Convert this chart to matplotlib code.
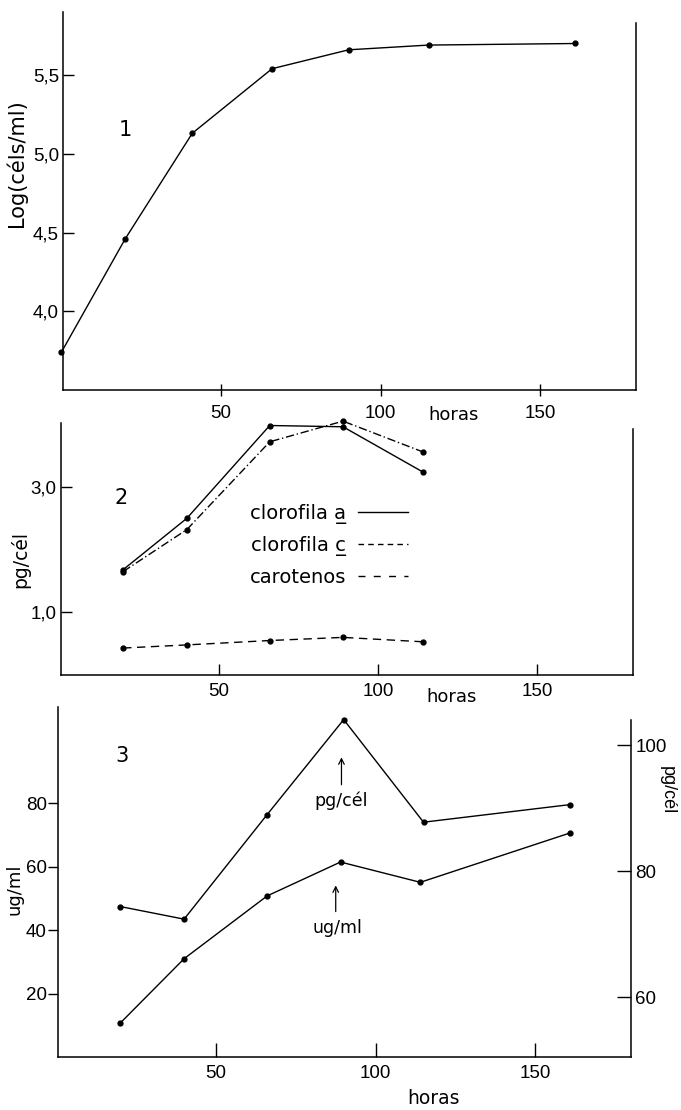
import matplotlib
matplotlib.use("Agg")
import matplotlib.pyplot as plt
from matplotlib.lines import Line2D

# panel 1: growth curve
hours1 = [0, 20, 41, 66, 90, 115, 161]
log_cells = [3.74, 4.46, 5.13, 5.54, 5.66, 5.69, 5.70]
yticks1 = [4.0, 4.5, 5.0, 5.5]
ylabels1 = ["4,0", "4,5", "5,0", "5,5"]

# panel 2: pigments per cell
hours2 = [20, 40, 66, 89, 114]
chl_a = [1.68, 2.50, 3.98, 3.96, 3.24]
chl_c = [1.65, 2.32, 3.72, 4.05, 3.56]
carot = [0.43, 0.48, 0.55, 0.60, 0.53]
yticks2 = [1.0, 3.0]
ylabels2 = ["1,0", "3,0"]
legend_labels = ["clorofila a\u0332", "clorofila c\u0332", "carotenos"]

# panel 3: protein
hours3_ug = [20, 40, 66, 89, 114, 161]
ug_ml = [10.7, 31.0, 50.8, 61.5, 55.1, 70.7]
hours3_pg = [20, 40, 66, 90, 115, 161]
pg_cel = [74.4, 72.4, 89.0, 104.1, 87.8, 90.6]
yticks3 = [20, 40, 60, 80]
yticks3r = [60, 80, 100]

xticks = [50, 100, 150]

TICK_FONT = "Liberation Sans"
TEXT_FONT = "DejaVu Sans"
LW = 1.0
MS = 3.5

fig = plt.figure(figsize=(6.81, 11.10), dpi=100)
W, H = 681.0, 1110.0


def add_axes(left, top, right, bottom):
    return fig.add_axes([left / W, 1 - bottom / H, (right - left) / W, (bottom - top) / H])


def style(ax, xdir, ydir, xlen, ylen, size):
    ax.spines["top"].set_visible(False)
    ax.set_xticks(xticks)
    ax.set_xticklabels([str(v) for v in xticks], fontfamily=TICK_FONT, fontsize=size)
    ax.tick_params(axis="x", direction=xdir, length=xlen, width=1.0, pad=6)
    ax.tick_params(axis="y", direction=ydir, length=ylen, width=1.0, pad=3)
    for s in ax.spines.values():
        s.set_linewidth(1.1)


def horas(ax, x, dy):
    ax.annotate("horas", xy=(x, 0), xycoords=("data", "axes fraction"),
                xytext=(0, dy), textcoords="offset pixels",
                ha="center", va="center", fontfamily=TEXT_FONT, fontsize=13)


# ---- panel 1
ax1 = add_axes(63, 12, 636, 390)
ax1.plot(hours1, log_cells, color="black", lw=LW, marker="o", ms=MS, clip_on=False)
ax1.set_xlim(0.5, 180)
ax1.set_ylim(3.5, 5.9)
style(ax1, "inout", "in", 9, 8, 13.5)
ax1.set_yticks(yticks1)
ax1.set_yticklabels(ylabels1, fontfamily=TICK_FONT, fontsize=13.5)
ax1.spines["right"].set_bounds(3.5, 5.83)
ax1.set_ylabel("Log(céls/ml)", fontfamily=TEXT_FONT, fontsize=15)
ax1.yaxis.set_label_coords(-0.062, 0.6)
ax1.text(20, 5.15, "1", fontfamily=TEXT_FONT, fontsize=15, ha="center", va="center")
horas(ax1, 123, -25)

# ---- panel 2
ax2 = add_axes(61, 423, 633, 675)
ax2.plot(hours2, chl_a, color="black", lw=LW, marker="o", ms=MS, clip_on=False)
ax2.plot(hours2, chl_c, color="black", lw=LW, marker="o", ms=MS,
         dashes=(6, 2, 1, 2), clip_on=False)
ax2.plot(hours2, carot, color="black", lw=LW, marker="o", ms=MS,
         dashes=(6, 4), clip_on=False)
ax2.set_xlim(0.5, 180)
ax2.set_ylim(0, 4.02)
style(ax2, "in", "in", 8, 8, 13.5)
ax2.set_yticks(yticks2)
ax2.set_yticklabels(ylabels2, fontfamily=TICK_FONT, fontsize=13.5)
ax2.spines["right"].set_bounds(0, 3.93)
ax2.set_ylabel("pg/cél", fontfamily=TEXT_FONT, fontsize=13.5)
ax2.yaxis.set_label_coords(-0.054, 0.46)
ax2.text(19.5, 2.82, "2", fontfamily=TEXT_FONT, fontsize=15, ha="center", va="center")
horas(ax2, 123, -22)

handles = [
    Line2D([], [], color="black", lw=LW),
    Line2D([], [], color="black", lw=LW, dashes=(4, 3)),
    Line2D([], [], color="black", lw=LW, dashes=(5, 6)),
]
leg = ax2.legend(handles, legend_labels, loc="upper left", bbox_to_anchor=(0.33, 0.68),
                 frameon=False, markerfirst=False, borderpad=0, borderaxespad=0,
                 handlelength=2.6, handletextpad=0.6, labelspacing=0.62,
                 prop={"family": TEXT_FONT, "size": 14})

# ---- panel 3
ax3 = add_axes(58, 707, 631, 1057)
ax3.plot(hours3_ug, ug_ml, color="black", lw=LW, marker="o", ms=MS)
ax3.set_xlim(0.5, 180)
ax3.set_ylim(0, 110.4)
style(ax3, "in", "out", 10, 7, 13.5)
ax3.set_yticks(yticks3)
ax3.set_yticklabels([str(v) for v in yticks3], fontfamily=TICK_FONT, fontsize=13.5)
ax3.tick_params(axis="y", pad=1)
ax3.spines["right"].set_visible(False)
ax3.set_ylabel("ug/ml", fontfamily=TEXT_FONT, fontsize=13)
ax3.yaxis.set_label_coords(-0.06, 0.48)
ax3.set_xlabel("horas", fontfamily=TEXT_FONT, fontsize=13.5)
ax3.xaxis.set_label_coords(0.655, -0.092)
ax3.text(20.6, 95, "3", fontfamily=TEXT_FONT, fontsize=15, ha="center", va="center")

ax3r = ax3.twinx()
ax3r.plot(hours3_pg, pg_cel, color="black", lw=LW, marker="o", ms=MS, clip_on=False)
ax3r.set_ylim(50.5, 106.1)
ax3r.set_yticks(yticks3r)
ax3r.set_yticklabels([str(v) for v in yticks3r], fontfamily=TICK_FONT, fontsize=13.5)
ax3r.tick_params(axis="y", direction="in", length=10, width=1.0, pad=3)
ax3r.spines["top"].set_visible(False)
ax3r.spines["left"].set_visible(False)
ax3r.spines["bottom"].set_visible(False)
ax3r.spines["right"].set_linewidth(1.1)
ax3r.spines["right"].set_bounds(50.5, 104.0)
ax3r.set_ylabel("pg/cél", fontfamily=TICK_FONT, fontsize=13, rotation=270, va="center")
ax3r.yaxis.set_label_coords(1.063, 0.763)

# arrow annotations
ax3.annotate("", xy=(89.3, 95.4), xytext=(89.3, 85),
             arrowprops=dict(arrowstyle="->", lw=0.9, color="black"))
ax3.text(89.3, 80.8, "pg/cél", fontfamily=TEXT_FONT, fontsize=12.5, ha="center", va="center")
ax3.annotate("", xy=(87.5, 55), xytext=(87.5, 45),
             arrowprops=dict(arrowstyle="->", lw=0.9, color="black"))
ax3.text(88, 40.7, "ug/ml", fontfamily=TEXT_FONT, fontsize=12.5, ha="center", va="center")

fig.savefig("out.png", dpi=100)
